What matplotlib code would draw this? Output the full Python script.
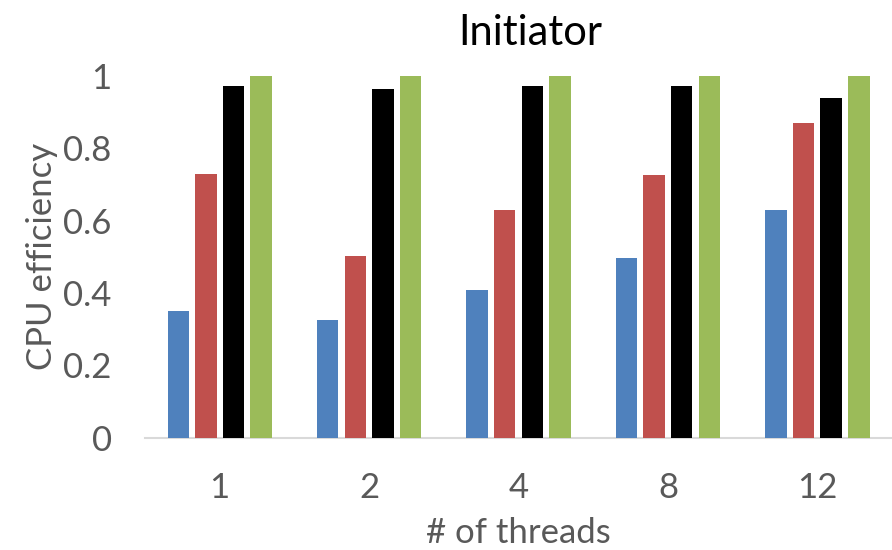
import numpy as np
import matplotlib
matplotlib.use("Agg")
import matplotlib.pyplot as plt

plt.rcParams['font.family'] = ['Lato', 'DejaVu Sans']

threads = ['1', '2', '4', '8', '12']
series_blue = [0.350, 0.325, 0.408, 0.496, 0.630]
series_red = [0.730, 0.501, 0.630, 0.727, 0.869]
series_black = [0.973, 0.964, 0.972, 0.973, 0.939]
series_green = [1.0, 1.0, 1.0, 1.0, 1.0]

colors = ['#4F81BD', '#C0504D', '#000000', '#9BBB59']
text_gray = '#595959'

fig = plt.figure(figsize=(8.92, 5.5), dpi=100)
ax = fig.add_axes([0.1626, 0.2042, 0.8374, 0.6576])

x = np.arange(len(threads))
pitch = 0.185
width = 0.144
for i, (vals, c) in enumerate(zip([series_blue, series_red, series_black, series_green], colors)):
    ax.bar(x + (i - 1.5) * pitch, vals, width, color=c, zorder=3)

ax.set_xlim(-0.5, len(threads) - 0.5)
ax.set_ylim(0, 1)
ax.set_yticks([0, 0.2, 0.4, 0.6, 0.8, 1])
ax.set_yticklabels(['0', '0.2', '0.4', '0.6', '0.8', '1'])
ax.set_xticks(x)
ax.set_xticklabels(threads)
ax.tick_params(axis='both', length=0, labelsize=25, colors=text_gray)
ax.tick_params(axis='y', pad=24)
ax.tick_params(axis='x', pad=25)

for s in ['top', 'right', 'left']:
    ax.spines[s].set_visible(False)
ax.spines['bottom'].set_color('#D9D9D9')
ax.spines['bottom'].set_linewidth(1.5)

ax.set_xlabel('# of threads', fontsize=25, color=text_gray, labelpad=9)
ax.set_ylabel('CPU efficiency', fontsize=25, color=text_gray, labelpad=4)
fig.text(0.595, 0.94, 'Initiator', fontsize=30, color='black', ha='center', va='center')

fig.savefig('out.png', dpi=100)
